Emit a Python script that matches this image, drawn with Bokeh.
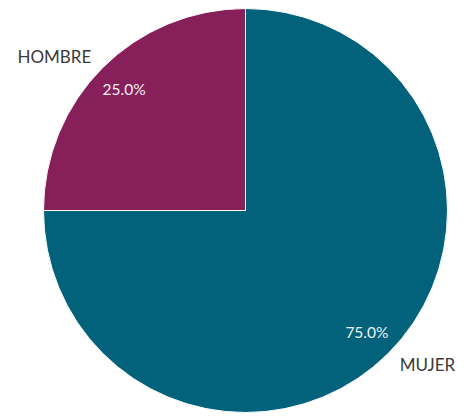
import math
from bokeh.plotting import figure
from bokeh.models import Range1d, ColumnDataSource
from bokeh.core.properties import value
from bokeh.embed import file_html
from bokeh.resources import INLINE

categories = ["MUJER", "HOMBRE"]
values = [75.0, 25.0]
colors = ["#02627B", "#87205A"]

W, H = 465, 414
cx, cy, r = 245, 204, 202

total = sum(values)
starts, ends, mids = [], [], []
a = math.pi / 2
for v in values:
    sweep = 2 * math.pi * v / total
    starts.append(a)
    ends.append(a - sweep)
    mids.append(a - sweep / 2)
    a -= sweep

src = ColumnDataSource(dict(
    x=[cx] * len(values), y=[cy] * len(values),
    start=starts, end=ends, color=colors,
))

p = figure(width=W, height=H, output_backend="svg", toolbar_location=None,
           x_range=Range1d(0, W), y_range=Range1d(0, H), min_border=0)
p.axis.visible = False
p.grid.visible = False
p.outline_line_color = None
p.background_fill_color = "white"

p.wedge(x="x", y="y", radius=r, start_angle="start", end_angle="end",
        direction="clock", fill_color="color", line_color="white",
        line_width=1, source=src)

# percent labels
px = [cx + 0.85 * r * math.cos(m) for m in mids]
py = [cy + 0.85 * r * math.sin(m) for m in mids]
ptxt = ["%.1f%%" % v for v in values]
p.text(x=px, y=py, text=ptxt, text_align="center", text_baseline="middle",
       text_color="#f0f0f0", text_font=value("Lato"), text_font_size="15.5px")

# category labels
lx = [cx + 1.08 * r * math.cos(m) for m in mids]
ly = [cy + 1.08 * r * math.sin(m) for m in mids]
for x, y, t, m in zip(lx, ly, categories, mids):
    align = "left" if math.cos(m) >= 0 else "right"
    p.text(x=[x], y=[y], text=[t], text_align=align, text_baseline="middle",
           text_color="#3a3a3a", text_font=value("Lato"), text_font_size="17px")

open("out.html", "w").write(file_html(p, INLINE))
